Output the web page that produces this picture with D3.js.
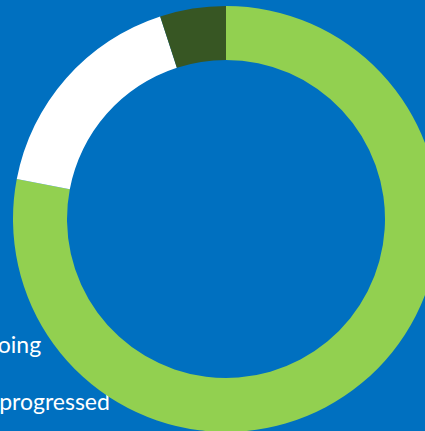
<!DOCTYPE html>
<html>
<head>
<meta charset="utf-8">
<script src="https://cdn.jsdelivr.net/npm/d3@7"></script>
<style>
  html, body { margin: 0; padding: 0; background: #0070c0; overflow: hidden; }
  text { font-family: Lato, "Open Sans", sans-serif; fill: #fff; }
</style>
</head>
<body>
<svg id="chart"></svg>
<script>
var categories = ["Completed", "Ongoing", "Not progressed"];
var values = [78, 17, 5];
var colors = ["#92d050", "#ffffff", "#375623"];

var width = 425,
    height = 431;

var cx = 226,
    cy = 219,
    outerR = 213,
    innerR = 159;

// legend runs off the left edge, the donut sits on top of it
var legendX = -45,
    legendY = 296,
    spaceBetween = 57;

var svg = d3.select("#chart")
    .attr("width", width)
    .attr("height", height);

var legend = svg.append("g")
    .attr("transform", "translate(" + [legendX, legendY] + ")");

// only the two smaller slices show a label in the original
legend.selectAll("text")
    .data(categories.slice(1))
    .enter()
    .append("text")
    .attr("x", 0)
    .attr("y", function(d, i) { return (i + 1) * spaceBetween; })
    .attr("font-size", 23)
    .text(function(d) { return d; });

var pie = d3.pie()
    .sort(null)
    .value(function(d) { return d; });

var arc = d3.arc()
    .innerRadius(innerR)
    .outerRadius(outerR);

var g = svg.append("g")
    .attr("transform", "translate(" + cx + "," + cy + ")");

g.selectAll("path")
    .data(pie(values))
    .enter()
    .append("path")
    .attr("d", arc)
    .attr("fill", function(d, i) { return colors[i]; });
</script>
</body>
</html>
